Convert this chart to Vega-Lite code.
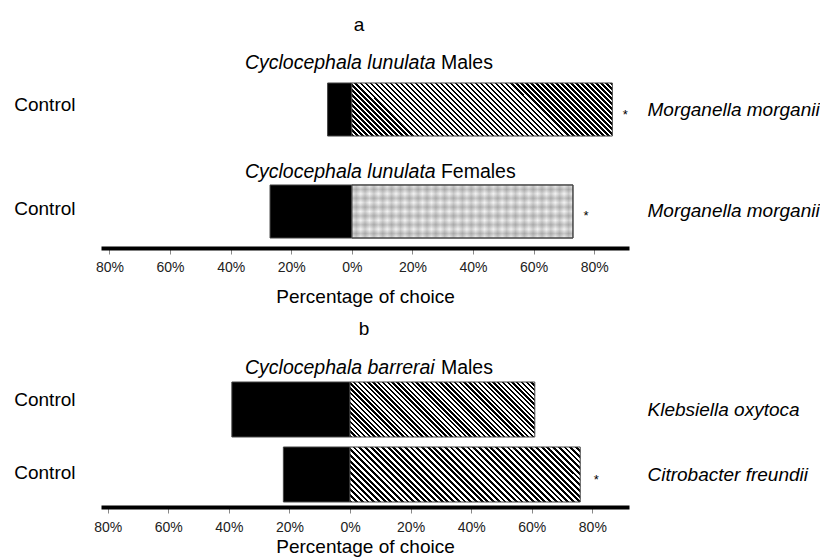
{
  "$schema": "https://vega.github.io/schema/vega-lite/v6.json",
  "background": "white",
  "padding": {"left": 13, "top": 16, "right": 0, "bottom": 0},
  "bounds": "flush",
  "spacing": 129,
  "config": {"font": "Liberation Sans", "view": {"stroke": null}},
  "datasets": {
    "bars": [
      {"panel": "a", "row": "Males", "option": "Control", "share": -8, "sig": ""},
      {"panel": "a", "row": "Males", "option": "Morganella morganii", "share": 86, "sig": "*"},
      {"panel": "a", "row": "Females", "option": "Control", "share": -27, "sig": ""},
      {"panel": "a", "row": "Females", "option": "Morganella morganii", "share": 73, "sig": "*"},
      {"panel": "b", "row": "Klebsiella oxytoca", "option": "Control", "share": -39, "sig": ""},
      {"panel": "b", "row": "Klebsiella oxytoca", "option": "Klebsiella oxytoca", "share": 61, "sig": ""},
      {"panel": "b", "row": "Citrobacter freundii", "option": "Control", "share": -22, "sig": ""},
      {"panel": "b", "row": "Citrobacter freundii", "option": "Citrobacter freundii", "share": 76, "sig": "*"}
    ],
    "titles": [
      {"panel": "a", "row": "Males", "species": "Cyclocephala lunulata", "sex": "Males"},
      {"panel": "a", "row": "Females", "species": "Cyclocephala lunulata", "sex": "Females"},
      {"panel": "b", "row": "Klebsiella oxytoca", "species": "Cyclocephala barrerai", "sex": "Males"}
    ]
  },
  "vconcat": [
    {
      "title": {"text": "a", "fontSize": 19, "fontWeight": "normal", "color": "black", "anchor": "middle", "frame": "group", "offset": 18, "dx": -6},
      "width": 528,
      "height": 175,
      "resolve": {"axis": {"y": "independent"}},
      "layer": [
        {
          "data": {"name": "bars"},
          "transform": [{"filter": "datum.panel === 'a'"}],
          "mark": {"type": "bar", "stroke": "#444", "strokeWidth": 1},
          "encoding": {
            "y": {"field": "row", "type": "nominal",
              "scale": {"domain": ["Males", "Females"], "paddingInner": 0.48, "paddingOuter": 0.098},
              "axis": {"orient": "left", "title": null, "ticks": false, "domain": false, "labelExpr": "'Control'", "labelFontSize": 19, "labelColor": "black", "labelPadding": 26,
                "labelOffset": {"condition": {"test": "datum.value === 'Males'", "value": -5}, "value": -2.5}}},
            "x": {"field": "share", "type": "quantitative", "stack": null,
              "scale": {"domain": [-82.8, 91.5], "nice": false, "zero": false},
              "axis": {"values": [-80, -60, -40, -20, 0, 20, 40, 60, 80], "labelExpr": "abs(datum.value) + '%'", "grid": false,
                "domainColor": "black", "domainWidth": 4, "tickColor": "#888", "tickSize": 6, "tickWidth": 1,
                "labelFontSize": 14, "labelColor": "#222", "labelPadding": 6, "labelFlush": false, "labelOverlap": false,
                "title": "Percentage of choice", "titleFontSize": 19, "titleFontWeight": "normal", "titleColor": "black", "titlePadding": 13}},
            "fill": {
              "condition": [
                {"test": "datum.share < 0", "value": "#000"},
                {"test": "datum.row === 'Males'", "value": {"gradient": "linear", "x1": 0, "y1": 1, "x2": 1.1556, "y2": 0.7648, "stops": [
{"offset":0,"color":"#000"},{"offset":0.008,"color":"#000"},{"offset":0.008,"color":"#fff"},{"offset":0.016,"color":"#fff"},
{"offset":0.016,"color":"#000"},{"offset":0.024,"color":"#000"},{"offset":0.024,"color":"#fff"},{"offset":0.032,"color":"#fff"},
{"offset":0.032,"color":"#000"},{"offset":0.04,"color":"#000"},{"offset":0.04,"color":"#fff"},{"offset":0.048,"color":"#fff"},
{"offset":0.048,"color":"#000"},{"offset":0.056,"color":"#000"},{"offset":0.056,"color":"#fff"},{"offset":0.064,"color":"#fff"},
{"offset":0.064,"color":"#000"},{"offset":0.072,"color":"#000"},{"offset":0.072,"color":"#fff"},{"offset":0.08,"color":"#fff"},
{"offset":0.08,"color":"#000"},{"offset":0.088,"color":"#000"},{"offset":0.088,"color":"#fff"},{"offset":0.096,"color":"#fff"},
{"offset":0.096,"color":"#000"},{"offset":0.104,"color":"#000"},{"offset":0.104,"color":"#fff"},{"offset":0.112,"color":"#fff"},
{"offset":0.112,"color":"#000"},{"offset":0.12,"color":"#000"},{"offset":0.12,"color":"#fff"},{"offset":0.128,"color":"#fff"},
{"offset":0.128,"color":"#000"},{"offset":0.136,"color":"#000"},{"offset":0.136,"color":"#fff"},{"offset":0.144,"color":"#fff"},
{"offset":0.144,"color":"#000"},{"offset":0.152,"color":"#000"},{"offset":0.152,"color":"#fff"},{"offset":0.16,"color":"#fff"},
{"offset":0.16,"color":"#000"},{"offset":0.168,"color":"#000"},{"offset":0.168,"color":"#fff"},{"offset":0.176,"color":"#fff"},
{"offset":0.176,"color":"#000"},{"offset":0.184,"color":"#000"},{"offset":0.184,"color":"#fff"},{"offset":0.192,"color":"#fff"},
{"offset":0.192,"color":"#000"},{"offset":0.2,"color":"#000"},{"offset":0.2,"color":"#fff"},{"offset":0.208,"color":"#fff"},
{"offset":0.208,"color":"#000"},{"offset":0.216,"color":"#000"},{"offset":0.216,"color":"#fff"},{"offset":0.224,"color":"#fff"},
{"offset":0.224,"color":"#000"},{"offset":0.232,"color":"#000"},{"offset":0.232,"color":"#fff"},{"offset":0.24,"color":"#fff"},
{"offset":0.24,"color":"#000"},{"offset":0.248,"color":"#000"},{"offset":0.248,"color":"#fff"},{"offset":0.256,"color":"#fff"},
{"offset":0.256,"color":"#000"},{"offset":0.264,"color":"#000"},{"offset":0.264,"color":"#fff"},{"offset":0.272,"color":"#fff"},
{"offset":0.272,"color":"#000"},{"offset":0.28,"color":"#000"},{"offset":0.28,"color":"#fff"},{"offset":0.288,"color":"#fff"},
{"offset":0.288,"color":"#000"},{"offset":0.296,"color":"#000"},{"offset":0.296,"color":"#fff"},{"offset":0.304,"color":"#fff"},
{"offset":0.304,"color":"#000"},{"offset":0.312,"color":"#000"},{"offset":0.312,"color":"#fff"},{"offset":0.32,"color":"#fff"},
{"offset":0.32,"color":"#000"},{"offset":0.328,"color":"#000"},{"offset":0.328,"color":"#fff"},{"offset":0.336,"color":"#fff"},
{"offset":0.336,"color":"#000"},{"offset":0.344,"color":"#000"},{"offset":0.344,"color":"#fff"},{"offset":0.352,"color":"#fff"},
{"offset":0.352,"color":"#000"},{"offset":0.36,"color":"#000"},{"offset":0.36,"color":"#fff"},{"offset":0.368,"color":"#fff"},
{"offset":0.368,"color":"#000"},{"offset":0.376,"color":"#000"},{"offset":0.376,"color":"#fff"},{"offset":0.384,"color":"#fff"},
{"offset":0.384,"color":"#000"},{"offset":0.392,"color":"#000"},{"offset":0.392,"color":"#fff"},{"offset":0.4,"color":"#fff"},
{"offset":0.4,"color":"#000"},{"offset":0.408,"color":"#000"},{"offset":0.408,"color":"#fff"},{"offset":0.416,"color":"#fff"},
{"offset":0.416,"color":"#000"},{"offset":0.424,"color":"#000"},{"offset":0.424,"color":"#fff"},{"offset":0.432,"color":"#fff"},
{"offset":0.432,"color":"#000"},{"offset":0.44,"color":"#000"},{"offset":0.44,"color":"#fff"},{"offset":0.448,"color":"#fff"},
{"offset":0.448,"color":"#000"},{"offset":0.456,"color":"#000"},{"offset":0.456,"color":"#fff"},{"offset":0.464,"color":"#fff"},
{"offset":0.464,"color":"#000"},{"offset":0.472,"color":"#000"},{"offset":0.472,"color":"#fff"},{"offset":0.48,"color":"#fff"},
{"offset":0.48,"color":"#000"},{"offset":0.488,"color":"#000"},{"offset":0.488,"color":"#fff"},{"offset":0.496,"color":"#fff"},
{"offset":0.496,"color":"#000"},{"offset":0.504,"color":"#000"},{"offset":0.504,"color":"#fff"},{"offset":0.512,"color":"#fff"},
{"offset":0.512,"color":"#000"},{"offset":0.52,"color":"#000"},{"offset":0.52,"color":"#fff"},{"offset":0.528,"color":"#fff"},
{"offset":0.528,"color":"#000"},{"offset":0.536,"color":"#000"},{"offset":0.536,"color":"#fff"},{"offset":0.544,"color":"#fff"},
{"offset":0.544,"color":"#000"},{"offset":0.552,"color":"#000"},{"offset":0.552,"color":"#fff"},{"offset":0.56,"color":"#fff"},
{"offset":0.56,"color":"#000"},{"offset":0.568,"color":"#000"},{"offset":0.568,"color":"#fff"},{"offset":0.576,"color":"#fff"},
{"offset":0.576,"color":"#000"},{"offset":0.584,"color":"#000"},{"offset":0.584,"color":"#fff"},{"offset":0.592,"color":"#fff"},
{"offset":0.592,"color":"#000"},{"offset":0.6,"color":"#000"},{"offset":0.6,"color":"#fff"},{"offset":0.608,"color":"#fff"},
{"offset":0.608,"color":"#000"},{"offset":0.616,"color":"#000"},{"offset":0.616,"color":"#fff"},{"offset":0.624,"color":"#fff"},
{"offset":0.624,"color":"#000"},{"offset":0.632,"color":"#000"},{"offset":0.632,"color":"#fff"},{"offset":0.64,"color":"#fff"},
{"offset":0.64,"color":"#000"},{"offset":0.648,"color":"#000"},{"offset":0.648,"color":"#fff"},{"offset":0.656,"color":"#fff"},
{"offset":0.656,"color":"#000"},{"offset":0.664,"color":"#000"},{"offset":0.664,"color":"#fff"},{"offset":0.672,"color":"#fff"},
{"offset":0.672,"color":"#000"},{"offset":0.68,"color":"#000"},{"offset":0.68,"color":"#fff"},{"offset":0.688,"color":"#fff"},
{"offset":0.688,"color":"#000"},{"offset":0.696,"color":"#000"},{"offset":0.696,"color":"#fff"},{"offset":0.704,"color":"#fff"},
{"offset":0.704,"color":"#000"},{"offset":0.712,"color":"#000"},{"offset":0.712,"color":"#fff"},{"offset":0.72,"color":"#fff"},
{"offset":0.72,"color":"#000"},{"offset":0.728,"color":"#000"},{"offset":0.728,"color":"#fff"},{"offset":0.736,"color":"#fff"},
{"offset":0.736,"color":"#000"},{"offset":0.744,"color":"#000"},{"offset":0.744,"color":"#fff"},{"offset":0.752,"color":"#fff"},
{"offset":0.752,"color":"#000"},{"offset":0.76,"color":"#000"},{"offset":0.76,"color":"#fff"},{"offset":0.768,"color":"#fff"},
{"offset":0.768,"color":"#000"},{"offset":0.776,"color":"#000"},{"offset":0.776,"color":"#fff"},{"offset":0.784,"color":"#fff"},
{"offset":0.784,"color":"#000"},{"offset":0.792,"color":"#000"},{"offset":0.792,"color":"#fff"},{"offset":0.8,"color":"#fff"},
{"offset":0.8,"color":"#000"},{"offset":0.808,"color":"#000"},{"offset":0.808,"color":"#fff"},{"offset":0.816,"color":"#fff"},
{"offset":0.816,"color":"#000"},{"offset":0.824,"color":"#000"},{"offset":0.824,"color":"#fff"},{"offset":0.832,"color":"#fff"},
{"offset":0.832,"color":"#000"},{"offset":0.84,"color":"#000"},{"offset":0.84,"color":"#fff"},{"offset":0.848,"color":"#fff"},
{"offset":0.848,"color":"#000"},{"offset":0.856,"color":"#000"},{"offset":0.856,"color":"#fff"},{"offset":0.864,"color":"#fff"},
{"offset":0.864,"color":"#000"},{"offset":0.872,"color":"#000"},{"offset":0.872,"color":"#fff"},{"offset":0.88,"color":"#fff"},
{"offset":0.88,"color":"#000"},{"offset":0.888,"color":"#000"},{"offset":0.888,"color":"#fff"},{"offset":0.896,"color":"#fff"},
{"offset":0.896,"color":"#000"},{"offset":0.904,"color":"#000"},{"offset":0.904,"color":"#fff"},{"offset":0.912,"color":"#fff"},
{"offset":0.912,"color":"#000"},{"offset":0.92,"color":"#000"},{"offset":0.92,"color":"#fff"},{"offset":0.928,"color":"#fff"},
{"offset":0.928,"color":"#000"},{"offset":0.936,"color":"#000"},{"offset":0.936,"color":"#fff"},{"offset":0.944,"color":"#fff"},
{"offset":0.944,"color":"#000"},{"offset":0.952,"color":"#000"},{"offset":0.952,"color":"#fff"},{"offset":0.96,"color":"#fff"},
{"offset":0.96,"color":"#000"},{"offset":0.968,"color":"#000"},{"offset":0.968,"color":"#fff"},{"offset":0.976,"color":"#fff"},
{"offset":0.976,"color":"#000"},{"offset":0.984,"color":"#000"},{"offset":0.984,"color":"#fff"},{"offset":0.992,"color":"#fff"},
{"offset":0.992,"color":"#000"},{"offset":1,"color":"#000"}
                ]}}
              ],
              "value": {"gradient": "linear", "x1": 0, "y1": 0, "x2": 1, "y2": 0, "stops": [
{"offset":0,"color":"#f4f4f4"},{"offset":0.02,"color":"#cdcdcd"},{"offset":0.04,"color":"#f4f4f4"},{"offset":0.06,"color":"#cdcdcd"},
{"offset":0.08,"color":"#f4f4f4"},{"offset":0.1,"color":"#cdcdcd"},{"offset":0.12,"color":"#f4f4f4"},{"offset":0.14,"color":"#cdcdcd"},
{"offset":0.16,"color":"#f4f4f4"},{"offset":0.18,"color":"#cdcdcd"},{"offset":0.2,"color":"#f4f4f4"},{"offset":0.22,"color":"#cdcdcd"},
{"offset":0.24,"color":"#f4f4f4"},{"offset":0.26,"color":"#cdcdcd"},{"offset":0.28,"color":"#f4f4f4"},{"offset":0.3,"color":"#cdcdcd"},
{"offset":0.32,"color":"#f4f4f4"},{"offset":0.34,"color":"#cdcdcd"},{"offset":0.36,"color":"#f4f4f4"},{"offset":0.38,"color":"#cdcdcd"},
{"offset":0.4,"color":"#f4f4f4"},{"offset":0.42,"color":"#cdcdcd"},{"offset":0.44,"color":"#f4f4f4"},{"offset":0.46,"color":"#cdcdcd"},
{"offset":0.48,"color":"#f4f4f4"},{"offset":0.5,"color":"#cdcdcd"},{"offset":0.52,"color":"#f4f4f4"},{"offset":0.54,"color":"#cdcdcd"},
{"offset":0.56,"color":"#f4f4f4"},{"offset":0.58,"color":"#cdcdcd"},{"offset":0.6,"color":"#f4f4f4"},{"offset":0.62,"color":"#cdcdcd"},
{"offset":0.64,"color":"#f4f4f4"},{"offset":0.66,"color":"#cdcdcd"},{"offset":0.68,"color":"#f4f4f4"},{"offset":0.7,"color":"#cdcdcd"},
{"offset":0.72,"color":"#f4f4f4"},{"offset":0.74,"color":"#cdcdcd"},{"offset":0.76,"color":"#f4f4f4"},{"offset":0.78,"color":"#cdcdcd"},
{"offset":0.8,"color":"#f4f4f4"},{"offset":0.82,"color":"#cdcdcd"},{"offset":0.84,"color":"#f4f4f4"},{"offset":0.86,"color":"#cdcdcd"},
{"offset":0.88,"color":"#f4f4f4"},{"offset":0.9,"color":"#cdcdcd"},{"offset":0.92,"color":"#f4f4f4"},{"offset":0.94,"color":"#cdcdcd"},
{"offset":0.96,"color":"#f4f4f4"},{"offset":0.98,"color":"#cdcdcd"},{"offset":1,"color":"#f4f4f4"}
              ]}
            }
          }
        },
        {
          "data": {"name": "bars"},
          "transform": [{"filter": "datum.panel === 'a' && datum.row === 'Females' && datum.share > 0"}],
          "mark": {"type": "bar", "stroke": "#444", "strokeWidth": 1, "fill": {"gradient": "linear", "x1": 0, "y1": 0, "x2": 0, "y2": 1, "stops": [
{"offset":0,"color":"rgba(0,0,0,0)"},{"offset":0.0833,"color":"rgba(0,0,0,0.18)"},{"offset":0.1667,"color":"rgba(0,0,0,0)"},
{"offset":0.25,"color":"rgba(0,0,0,0.18)"},{"offset":0.3333,"color":"rgba(0,0,0,0)"},{"offset":0.4167,"color":"rgba(0,0,0,0.18)"},
{"offset":0.5,"color":"rgba(0,0,0,0)"},{"offset":0.5833,"color":"rgba(0,0,0,0.18)"},{"offset":0.6667,"color":"rgba(0,0,0,0)"},
{"offset":0.75,"color":"rgba(0,0,0,0.18)"},{"offset":0.8333,"color":"rgba(0,0,0,0)"},{"offset":0.9167,"color":"rgba(0,0,0,0.18)"},
{"offset":1,"color":"rgba(0,0,0,0)"}
          ]}},
          "encoding": {
            "y": {"field": "row", "type": "nominal", "axis": null},
            "x": {"field": "share", "type": "quantitative", "stack": null}
          }
        },
        {
          "data": {"name": "bars"},
          "transform": [{"filter": "datum.panel === 'a' && datum.sig === '*'"}],
          "mark": {"type": "text", "fontSize": 13, "dx": 13, "dy": 5, "align": "center", "baseline": "middle", "color": "#000"},
          "encoding": {
            "y": {"field": "row", "type": "nominal",
              "axis": {"orient": "right", "title": null, "ticks": false, "domain": false, "labelExpr": "'Morganella morganii'", "labelFontSize": 19, "labelFontStyle": "italic", "labelColor": "black", "labelPadding": 18}},
            "x": {"field": "share", "type": "quantitative"},
            "text": {"field": "sig"}
          }
        },
        {
          "data": {"name": "titles"},
          "transform": [{"filter": "datum.panel === 'a' && datum.row === 'Males'"}],
          "mark": {"type": "text", "fontSize": 19.5, "fontStyle": "italic", "align": "left", "baseline": "middle", "dy": -46.5, "color": "#000"},
          "encoding": {"y": {"field": "row", "type": "nominal", "axis": null}, "x": {"datum": -35.3}, "text": {"field": "species"}}
        },
        {
          "data": {"name": "titles"},
          "transform": [{"filter": "datum.panel === 'a' && datum.row === 'Males'"}],
          "mark": {"type": "text", "fontSize": 19.5, "align": "left", "baseline": "middle", "dy": -46.5, "color": "#000"},
          "encoding": {"y": {"field": "row", "type": "nominal", "axis": null}, "x": {"datum": 29.4}, "text": {"field": "sex"}}
        },
        {
          "data": {"name": "titles"},
          "transform": [{"filter": "datum.panel === 'a' && datum.row === 'Females'"}],
          "mark": {"type": "text", "fontSize": 19.5, "fontStyle": "italic", "align": "left", "baseline": "middle", "dy": -39.5, "color": "#000"},
          "encoding": {"y": {"field": "row", "type": "nominal", "axis": null}, "x": {"datum": -35.3}, "text": {"field": "species"}}
        },
        {
          "data": {"name": "titles"},
          "transform": [{"filter": "datum.panel === 'a' && datum.row === 'Females'"}],
          "mark": {"type": "text", "fontSize": 19.5, "align": "left", "baseline": "middle", "dy": -39.5, "color": "#000"},
          "encoding": {"y": {"field": "row", "type": "nominal", "axis": null}, "x": {"datum": 29.4}, "text": {"field": "sex"}}
        }
      ]
    },
    {
      "title": {"text": "b", "fontSize": 19, "fontWeight": "normal", "color": "black", "anchor": "middle", "frame": "group", "offset": 19, "dx": -1},
      "width": 528,
      "height": 130,
      "resolve": {"axis": {"y": "independent"}},
      "layer": [
        {
          "data": {"name": "bars"},
          "transform": [{"filter": "datum.panel === 'b'"}],
          "mark": {"type": "bar", "stroke": "#444", "strokeWidth": 1},
          "encoding": {
            "y": {"field": "row", "type": "nominal",
              "scale": {"domain": ["Klebsiella oxytoca", "Citrobacter freundii"], "paddingInner": 0.154, "paddingOuter": 0.077},
              "axis": {"orient": "left", "title": null, "ticks": false, "domain": false, "labelExpr": "'Control'", "labelFontSize": 19, "labelColor": "black", "labelPadding": 26,
                "labelOffset": {"condition": {"test": "datum.value === 'Klebsiella oxytoca'", "value": -9.5}, "value": -1.5}}},
            "x": {"field": "share", "type": "quantitative", "stack": null,
              "scale": {"domain": [-82.2, 92.1], "nice": false, "zero": false},
              "axis": {"values": [-80, -60, -40, -20, 0, 20, 40, 60, 80], "labelExpr": "abs(datum.value) + '%'", "grid": false,
                "domainColor": "black", "domainWidth": 4, "tickColor": "#888", "tickSize": 6, "tickWidth": 1,
                "labelFontSize": 14, "labelColor": "#222", "labelPadding": 7.5, "labelFlush": false, "labelOverlap": false,
                "title": "Percentage of choice", "titleFontSize": 19, "titleFontWeight": "normal", "titleColor": "black", "titlePadding": 3}},
            "fill": {
              "condition": [
                {"test": "datum.share < 0", "value": "#000"},
                {"test": "datum.row === 'Klebsiella oxytoca'", "value": {"gradient": "linear", "x1": 0, "y1": 1, "x2": 1.192, "y2": 0.6453, "stops": [
{"offset":0,"color":"#000"},{"offset":0.01,"color":"#000"},{"offset":0.01,"color":"#fff"},{"offset":0.02,"color":"#fff"},
{"offset":0.02,"color":"#000"},{"offset":0.03,"color":"#000"},{"offset":0.03,"color":"#fff"},{"offset":0.04,"color":"#fff"},
{"offset":0.04,"color":"#000"},{"offset":0.05,"color":"#000"},{"offset":0.05,"color":"#fff"},{"offset":0.06,"color":"#fff"},
{"offset":0.06,"color":"#000"},{"offset":0.07,"color":"#000"},{"offset":0.07,"color":"#fff"},{"offset":0.08,"color":"#fff"},
{"offset":0.08,"color":"#000"},{"offset":0.09,"color":"#000"},{"offset":0.09,"color":"#fff"},{"offset":0.1,"color":"#fff"},
{"offset":0.1,"color":"#000"},{"offset":0.11,"color":"#000"},{"offset":0.11,"color":"#fff"},{"offset":0.12,"color":"#fff"},
{"offset":0.12,"color":"#000"},{"offset":0.13,"color":"#000"},{"offset":0.13,"color":"#fff"},{"offset":0.14,"color":"#fff"},
{"offset":0.14,"color":"#000"},{"offset":0.15,"color":"#000"},{"offset":0.15,"color":"#fff"},{"offset":0.16,"color":"#fff"},
{"offset":0.16,"color":"#000"},{"offset":0.17,"color":"#000"},{"offset":0.17,"color":"#fff"},{"offset":0.18,"color":"#fff"},
{"offset":0.18,"color":"#000"},{"offset":0.19,"color":"#000"},{"offset":0.19,"color":"#fff"},{"offset":0.2,"color":"#fff"},
{"offset":0.2,"color":"#000"},{"offset":0.21,"color":"#000"},{"offset":0.21,"color":"#fff"},{"offset":0.22,"color":"#fff"},
{"offset":0.22,"color":"#000"},{"offset":0.23,"color":"#000"},{"offset":0.23,"color":"#fff"},{"offset":0.24,"color":"#fff"},
{"offset":0.24,"color":"#000"},{"offset":0.25,"color":"#000"},{"offset":0.25,"color":"#fff"},{"offset":0.26,"color":"#fff"},
{"offset":0.26,"color":"#000"},{"offset":0.27,"color":"#000"},{"offset":0.27,"color":"#fff"},{"offset":0.28,"color":"#fff"},
{"offset":0.28,"color":"#000"},{"offset":0.29,"color":"#000"},{"offset":0.29,"color":"#fff"},{"offset":0.3,"color":"#fff"},
{"offset":0.3,"color":"#000"},{"offset":0.31,"color":"#000"},{"offset":0.31,"color":"#fff"},{"offset":0.32,"color":"#fff"},
{"offset":0.32,"color":"#000"},{"offset":0.33,"color":"#000"},{"offset":0.33,"color":"#fff"},{"offset":0.34,"color":"#fff"},
{"offset":0.34,"color":"#000"},{"offset":0.35,"color":"#000"},{"offset":0.35,"color":"#fff"},{"offset":0.36,"color":"#fff"},
{"offset":0.36,"color":"#000"},{"offset":0.37,"color":"#000"},{"offset":0.37,"color":"#fff"},{"offset":0.38,"color":"#fff"},
{"offset":0.38,"color":"#000"},{"offset":0.39,"color":"#000"},{"offset":0.39,"color":"#fff"},{"offset":0.4,"color":"#fff"},
{"offset":0.4,"color":"#000"},{"offset":0.41,"color":"#000"},{"offset":0.41,"color":"#fff"},{"offset":0.42,"color":"#fff"},
{"offset":0.42,"color":"#000"},{"offset":0.43,"color":"#000"},{"offset":0.43,"color":"#fff"},{"offset":0.44,"color":"#fff"},
{"offset":0.44,"color":"#000"},{"offset":0.45,"color":"#000"},{"offset":0.45,"color":"#fff"},{"offset":0.46,"color":"#fff"},
{"offset":0.46,"color":"#000"},{"offset":0.47,"color":"#000"},{"offset":0.47,"color":"#fff"},{"offset":0.48,"color":"#fff"},
{"offset":0.48,"color":"#000"},{"offset":0.49,"color":"#000"},{"offset":0.49,"color":"#fff"},{"offset":0.5,"color":"#fff"},
{"offset":0.5,"color":"#000"},{"offset":0.51,"color":"#000"},{"offset":0.51,"color":"#fff"},{"offset":0.52,"color":"#fff"},
{"offset":0.52,"color":"#000"},{"offset":0.53,"color":"#000"},{"offset":0.53,"color":"#fff"},{"offset":0.54,"color":"#fff"},
{"offset":0.54,"color":"#000"},{"offset":0.55,"color":"#000"},{"offset":0.55,"color":"#fff"},{"offset":0.56,"color":"#fff"},
{"offset":0.56,"color":"#000"},{"offset":0.57,"color":"#000"},{"offset":0.57,"color":"#fff"},{"offset":0.58,"color":"#fff"},
{"offset":0.58,"color":"#000"},{"offset":0.59,"color":"#000"},{"offset":0.59,"color":"#fff"},{"offset":0.6,"color":"#fff"},
{"offset":0.6,"color":"#000"},{"offset":0.61,"color":"#000"},{"offset":0.61,"color":"#fff"},{"offset":0.62,"color":"#fff"},
{"offset":0.62,"color":"#000"},{"offset":0.63,"color":"#000"},{"offset":0.63,"color":"#fff"},{"offset":0.64,"color":"#fff"},
{"offset":0.64,"color":"#000"},{"offset":0.65,"color":"#000"},{"offset":0.65,"color":"#fff"},{"offset":0.66,"color":"#fff"},
{"offset":0.66,"color":"#000"},{"offset":0.67,"color":"#000"},{"offset":0.67,"color":"#fff"},{"offset":0.68,"color":"#fff"},
{"offset":0.68,"color":"#000"},{"offset":0.69,"color":"#000"},{"offset":0.69,"color":"#fff"},{"offset":0.7,"color":"#fff"},
{"offset":0.7,"color":"#000"},{"offset":0.71,"color":"#000"},{"offset":0.71,"color":"#fff"},{"offset":0.72,"color":"#fff"},
{"offset":0.72,"color":"#000"},{"offset":0.73,"color":"#000"},{"offset":0.73,"color":"#fff"},{"offset":0.74,"color":"#fff"},
{"offset":0.74,"color":"#000"},{"offset":0.75,"color":"#000"},{"offset":0.75,"color":"#fff"},{"offset":0.76,"color":"#fff"},
{"offset":0.76,"color":"#000"},{"offset":0.77,"color":"#000"},{"offset":0.77,"color":"#fff"},{"offset":0.78,"color":"#fff"},
{"offset":0.78,"color":"#000"},{"offset":0.79,"color":"#000"},{"offset":0.79,"color":"#fff"},{"offset":0.8,"color":"#fff"},
{"offset":0.8,"color":"#000"},{"offset":0.81,"color":"#000"},{"offset":0.81,"color":"#fff"},{"offset":0.82,"color":"#fff"},
{"offset":0.82,"color":"#000"},{"offset":0.83,"color":"#000"},{"offset":0.83,"color":"#fff"},{"offset":0.84,"color":"#fff"},
{"offset":0.84,"color":"#000"},{"offset":0.85,"color":"#000"},{"offset":0.85,"color":"#fff"},{"offset":0.86,"color":"#fff"},
{"offset":0.86,"color":"#000"},{"offset":0.87,"color":"#000"},{"offset":0.87,"color":"#fff"},{"offset":0.88,"color":"#fff"},
{"offset":0.88,"color":"#000"},{"offset":0.89,"color":"#000"},{"offset":0.89,"color":"#fff"},{"offset":0.9,"color":"#fff"},
{"offset":0.9,"color":"#000"},{"offset":0.91,"color":"#000"},{"offset":0.91,"color":"#fff"},{"offset":0.92,"color":"#fff"},
{"offset":0.92,"color":"#000"},{"offset":0.93,"color":"#000"},{"offset":0.93,"color":"#fff"},{"offset":0.94,"color":"#fff"},
{"offset":0.94,"color":"#000"},{"offset":0.95,"color":"#000"},{"offset":0.95,"color":"#fff"},{"offset":0.96,"color":"#fff"},
{"offset":0.96,"color":"#000"},{"offset":0.97,"color":"#000"},{"offset":0.97,"color":"#fff"},{"offset":0.98,"color":"#fff"},
{"offset":0.98,"color":"#000"},{"offset":0.99,"color":"#000"},{"offset":0.99,"color":"#fff"},{"offset":1,"color":"#fff"}
                ]}}
              ],
              "value": {"gradient": "linear", "x1": 0, "y1": 1, "x2": 1.172, "y2": 0.72, "stops": [
{"offset":0,"color":"#000"},{"offset":0.01,"color":"#000"},{"offset":0.01,"color":"#fff"},{"offset":0.02,"color":"#fff"},
{"offset":0.02,"color":"#000"},{"offset":0.03,"color":"#000"},{"offset":0.03,"color":"#fff"},{"offset":0.04,"color":"#fff"},
{"offset":0.04,"color":"#000"},{"offset":0.05,"color":"#000"},{"offset":0.05,"color":"#fff"},{"offset":0.06,"color":"#fff"},
{"offset":0.06,"color":"#000"},{"offset":0.07,"color":"#000"},{"offset":0.07,"color":"#fff"},{"offset":0.08,"color":"#fff"},
{"offset":0.08,"color":"#000"},{"offset":0.09,"color":"#000"},{"offset":0.09,"color":"#fff"},{"offset":0.1,"color":"#fff"},
{"offset":0.1,"color":"#000"},{"offset":0.11,"color":"#000"},{"offset":0.11,"color":"#fff"},{"offset":0.12,"color":"#fff"},
{"offset":0.12,"color":"#000"},{"offset":0.13,"color":"#000"},{"offset":0.13,"color":"#fff"},{"offset":0.14,"color":"#fff"},
{"offset":0.14,"color":"#000"},{"offset":0.15,"color":"#000"},{"offset":0.15,"color":"#fff"},{"offset":0.16,"color":"#fff"},
{"offset":0.16,"color":"#000"},{"offset":0.17,"color":"#000"},{"offset":0.17,"color":"#fff"},{"offset":0.18,"color":"#fff"},
{"offset":0.18,"color":"#000"},{"offset":0.19,"color":"#000"},{"offset":0.19,"color":"#fff"},{"offset":0.2,"color":"#fff"},
{"offset":0.2,"color":"#000"},{"offset":0.21,"color":"#000"},{"offset":0.21,"color":"#fff"},{"offset":0.22,"color":"#fff"},
{"offset":0.22,"color":"#000"},{"offset":0.23,"color":"#000"},{"offset":0.23,"color":"#fff"},{"offset":0.24,"color":"#fff"},
{"offset":0.24,"color":"#000"},{"offset":0.25,"color":"#000"},{"offset":0.25,"color":"#fff"},{"offset":0.26,"color":"#fff"},
{"offset":0.26,"color":"#000"},{"offset":0.27,"color":"#000"},{"offset":0.27,"color":"#fff"},{"offset":0.28,"color":"#fff"},
{"offset":0.28,"color":"#000"},{"offset":0.29,"color":"#000"},{"offset":0.29,"color":"#fff"},{"offset":0.3,"color":"#fff"},
{"offset":0.3,"color":"#000"},{"offset":0.31,"color":"#000"},{"offset":0.31,"color":"#fff"},{"offset":0.32,"color":"#fff"},
{"offset":0.32,"color":"#000"},{"offset":0.33,"color":"#000"},{"offset":0.33,"color":"#fff"},{"offset":0.34,"color":"#fff"},
{"offset":0.34,"color":"#000"},{"offset":0.35,"color":"#000"},{"offset":0.35,"color":"#fff"},{"offset":0.36,"color":"#fff"},
{"offset":0.36,"color":"#000"},{"offset":0.37,"color":"#000"},{"offset":0.37,"color":"#fff"},{"offset":0.38,"color":"#fff"},
{"offset":0.38,"color":"#000"},{"offset":0.39,"color":"#000"},{"offset":0.39,"color":"#fff"},{"offset":0.4,"color":"#fff"},
{"offset":0.4,"color":"#000"},{"offset":0.41,"color":"#000"},{"offset":0.41,"color":"#fff"},{"offset":0.42,"color":"#fff"},
{"offset":0.42,"color":"#000"},{"offset":0.43,"color":"#000"},{"offset":0.43,"color":"#fff"},{"offset":0.44,"color":"#fff"},
{"offset":0.44,"color":"#000"},{"offset":0.45,"color":"#000"},{"offset":0.45,"color":"#fff"},{"offset":0.46,"color":"#fff"},
{"offset":0.46,"color":"#000"},{"offset":0.47,"color":"#000"},{"offset":0.47,"color":"#fff"},{"offset":0.48,"color":"#fff"},
{"offset":0.48,"color":"#000"},{"offset":0.49,"color":"#000"},{"offset":0.49,"color":"#fff"},{"offset":0.5,"color":"#fff"},
{"offset":0.5,"color":"#000"},{"offset":0.51,"color":"#000"},{"offset":0.51,"color":"#fff"},{"offset":0.52,"color":"#fff"},
{"offset":0.52,"color":"#000"},{"offset":0.53,"color":"#000"},{"offset":0.53,"color":"#fff"},{"offset":0.54,"color":"#fff"},
{"offset":0.54,"color":"#000"},{"offset":0.55,"color":"#000"},{"offset":0.55,"color":"#fff"},{"offset":0.56,"color":"#fff"},
{"offset":0.56,"color":"#000"},{"offset":0.57,"color":"#000"},{"offset":0.57,"color":"#fff"},{"offset":0.58,"color":"#fff"},
{"offset":0.58,"color":"#000"},{"offset":0.59,"color":"#000"},{"offset":0.59,"color":"#fff"},{"offset":0.6,"color":"#fff"},
{"offset":0.6,"color":"#000"},{"offset":0.61,"color":"#000"},{"offset":0.61,"color":"#fff"},{"offset":0.62,"color":"#fff"},
{"offset":0.62,"color":"#000"},{"offset":0.63,"color":"#000"},{"offset":0.63,"color":"#fff"},{"offset":0.64,"color":"#fff"},
{"offset":0.64,"color":"#000"},{"offset":0.65,"color":"#000"},{"offset":0.65,"color":"#fff"},{"offset":0.66,"color":"#fff"},
{"offset":0.66,"color":"#000"},{"offset":0.67,"color":"#000"},{"offset":0.67,"color":"#fff"},{"offset":0.68,"color":"#fff"},
{"offset":0.68,"color":"#000"},{"offset":0.69,"color":"#000"},{"offset":0.69,"color":"#fff"},{"offset":0.7,"color":"#fff"},
{"offset":0.7,"color":"#000"},{"offset":0.71,"color":"#000"},{"offset":0.71,"color":"#fff"},{"offset":0.72,"color":"#fff"},
{"offset":0.72,"color":"#000"},{"offset":0.73,"color":"#000"},{"offset":0.73,"color":"#fff"},{"offset":0.74,"color":"#fff"},
{"offset":0.74,"color":"#000"},{"offset":0.75,"color":"#000"},{"offset":0.75,"color":"#fff"},{"offset":0.76,"color":"#fff"},
{"offset":0.76,"color":"#000"},{"offset":0.77,"color":"#000"},{"offset":0.77,"color":"#fff"},{"offset":0.78,"color":"#fff"},
{"offset":0.78,"color":"#000"},{"offset":0.79,"color":"#000"},{"offset":0.79,"color":"#fff"},{"offset":0.8,"color":"#fff"},
{"offset":0.8,"color":"#000"},{"offset":0.81,"color":"#000"},{"offset":0.81,"color":"#fff"},{"offset":0.82,"color":"#fff"},
{"offset":0.82,"color":"#000"},{"offset":0.83,"color":"#000"},{"offset":0.83,"color":"#fff"},{"offset":0.84,"color":"#fff"},
{"offset":0.84,"color":"#000"},{"offset":0.85,"color":"#000"},{"offset":0.85,"color":"#fff"},{"offset":0.86,"color":"#fff"},
{"offset":0.86,"color":"#000"},{"offset":0.87,"color":"#000"},{"offset":0.87,"color":"#fff"},{"offset":0.88,"color":"#fff"},
{"offset":0.88,"color":"#000"},{"offset":0.89,"color":"#000"},{"offset":0.89,"color":"#fff"},{"offset":0.9,"color":"#fff"},
{"offset":0.9,"color":"#000"},{"offset":0.91,"color":"#000"},{"offset":0.91,"color":"#fff"},{"offset":0.92,"color":"#fff"},
{"offset":0.92,"color":"#000"},{"offset":0.93,"color":"#000"},{"offset":0.93,"color":"#fff"},{"offset":0.94,"color":"#fff"},
{"offset":0.94,"color":"#000"},{"offset":0.95,"color":"#000"},{"offset":0.95,"color":"#fff"},{"offset":0.96,"color":"#fff"},
{"offset":0.96,"color":"#000"},{"offset":0.97,"color":"#000"},{"offset":0.97,"color":"#fff"},{"offset":0.98,"color":"#fff"},
{"offset":0.98,"color":"#000"},{"offset":0.99,"color":"#000"},{"offset":0.99,"color":"#fff"},{"offset":1,"color":"#fff"}
              ]}
            }
          }
        },
        {
          "data": {"name": "bars"},
          "transform": [{"filter": "datum.panel === 'b' && datum.sig === '*'"}],
          "mark": {"type": "text", "fontSize": 13, "dx": 16, "dy": 5, "align": "center", "baseline": "middle", "color": "#000"},
          "encoding": {
            "y": {"field": "row", "type": "nominal",
              "axis": {"orient": "right", "title": null, "ticks": false, "domain": false, "labelFontSize": 19, "labelFontStyle": "italic", "labelColor": "black", "labelPadding": 18}},
            "x": {"field": "share", "type": "quantitative"},
            "text": {"field": "sig"}
          }
        },
        {
          "data": {"name": "titles"},
          "transform": [{"filter": "datum.panel === 'b'"}],
          "mark": {"type": "text", "fontSize": 19.5, "fontStyle": "italic", "align": "left", "baseline": "middle", "dy": -41.5, "color": "#000"},
          "encoding": {"y": {"field": "row", "type": "nominal", "axis": null}, "x": {"datum": -34.66}, "text": {"field": "species"}}
        },
        {
          "data": {"name": "titles"},
          "transform": [{"filter": "datum.panel === 'b'"}],
          "mark": {"type": "text", "fontSize": 19.5, "align": "left", "baseline": "middle", "dy": -41.5, "color": "#000"},
          "encoding": {"y": {"field": "row", "type": "nominal", "axis": null}, "x": {"datum": 30.0}, "text": {"field": "sex"}}
        }
      ]
    }
  ]
}
